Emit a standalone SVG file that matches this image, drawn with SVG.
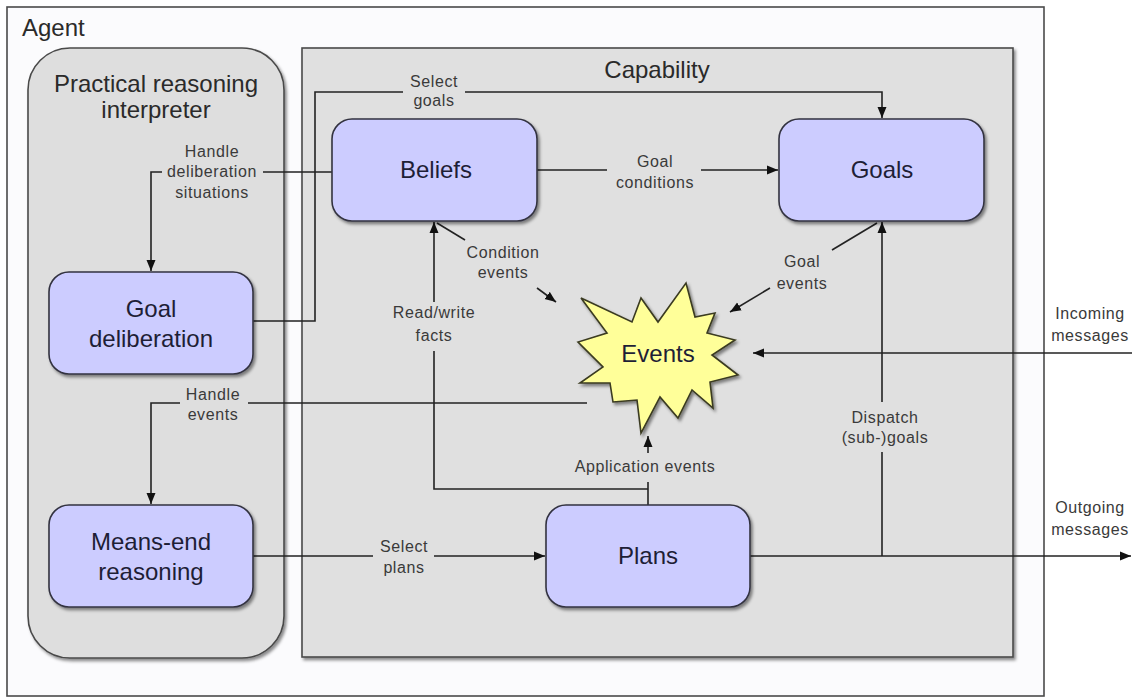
<svg xmlns="http://www.w3.org/2000/svg" width="1132" height="697" viewBox="0 0 1132 697">
  <style>
    .container { stroke: #4a4a4a; stroke-width: 1.6; }
    .node rect { fill: #ccccff; stroke: #333340; stroke-width: 1.6; }
    .title { font-family: "Liberation Sans", Arial, sans-serif; font-size: 24px; fill: #2a2a2a; }
    .nodetext { font-family: "Liberation Sans", Arial, sans-serif; font-size: 24px; fill: #1e1e36; text-anchor: middle; }
    .lbl { font-family: "Liberation Sans", Arial, sans-serif; font-size: 16px; letter-spacing: 0.6px; fill: #3a3a3a; text-anchor: middle; }
    .wire { fill: none; stroke: #222222; stroke-width: 1.6; }
  </style>
  <defs>
    <marker id="arrow" markerUnits="userSpaceOnUse" markerWidth="12" markerHeight="10" refX="11" refY="5" orient="auto">
      <path d="M0,0.5 L11,5 L0,9.5 Z" fill="#111111"/>
    </marker>
    <filter id="shadow" x="-10%" y="-10%" width="125%" height="130%">
      <feDropShadow dx="2" dy="2.5" stdDeviation="1.4" flood-color="#000000" flood-opacity="0.45"/>
    </filter>
  </defs>

  <rect x="0" y="0" width="1132" height="697" fill="#ffffff"/>

  <!-- Agent frame -->
  <g id="agent">
    <rect class="container" x="7" y="7" width="1037" height="689" fill="#fbfbfd"/>
    <text class="title" x="22" y="36">Agent</text>
  </g>

  <!-- Practical reasoning interpreter -->
  <g id="interpreter">
    <rect class="container" x="28" y="48" width="256" height="610" rx="42" ry="42" fill="#dedede" filter="url(#shadow)"/>
    <text class="title" x="156" y="92" text-anchor="middle">Practical reasoning</text>
    <text class="title" x="156" y="118" text-anchor="middle">interpreter</text>
  </g>

  <!-- Capability -->
  <g id="capability">
    <rect class="container" x="302" y="48" width="711" height="609" fill="#e0e0e0" filter="url(#shadow)"/>
    <text class="title" x="657" y="78" text-anchor="middle">Capability</text>
  </g>

  <!-- Connectors -->
  <g id="connectors">
    <!-- Select goals -->
    <path class="wire" d="M253,321 H315 V92 H403"/>
    <path class="wire" d="M465,92 H882 V118" marker-end="url(#arrow)"/>
    <text class="lbl" x="434" y="87">Select</text>
    <text class="lbl" x="434" y="106">goals</text>

    <!-- Handle deliberation situations -->
    <path class="wire" d="M332,172 H263"/>
    <path class="wire" d="M162,172 H151 V271" marker-end="url(#arrow)"/>
    <text class="lbl" x="212" y="157">Handle</text>
    <text class="lbl" x="212" y="177">deliberation</text>
    <text class="lbl" x="212" y="198">situations</text>

    <!-- Goal conditions -->
    <path class="wire" d="M537,170 H607"/>
    <path class="wire" d="M701,170 H778" marker-end="url(#arrow)"/>
    <text class="lbl" x="655" y="167">Goal</text>
    <text class="lbl" x="655" y="188">conditions</text>

    <!-- Condition events -->
    <path class="wire" d="M437,223 L465,240"/>
    <path class="wire" d="M537,288 L556,302" marker-end="url(#arrow)"/>
    <text class="lbl" x="503" y="258">Condition</text>
    <text class="lbl" x="503" y="278">events</text>

    <!-- Goal events -->
    <path class="wire" d="M877,223 L832,250"/>
    <path class="wire" d="M770,288 L730,312" marker-end="url(#arrow)"/>
    <text class="lbl" x="802" y="267">Goal</text>
    <text class="lbl" x="802" y="289">events</text>

    <!-- Read/write facts -->
    <path class="wire" d="M648,489 H434 V351"/>
    <path class="wire" d="M434,302 V222" marker-end="url(#arrow)"/>
    <text class="lbl" x="434" y="318">Read/write</text>
    <text class="lbl" x="434" y="341">facts</text>

    <!-- Application events -->
    <path class="wire" d="M648,505 V482"/>
    <path class="wire" d="M648,453 V436" marker-end="url(#arrow)"/>
    <text class="lbl" x="645" y="472">Application events</text>

    <!-- Handle events -->
    <path class="wire" d="M587,403 H248"/>
    <path class="wire" d="M180,403 H151 V504" marker-end="url(#arrow)"/>
    <text class="lbl" x="213" y="400">Handle</text>
    <text class="lbl" x="213" y="420">events</text>

    <!-- Incoming messages -->
    <path class="wire" d="M1132,353 H753" marker-end="url(#arrow)"/>
    <text class="lbl" x="1090" y="319">Incoming</text>
    <text class="lbl" x="1090" y="341">messages</text>

    <!-- Select plans -->
    <path class="wire" d="M253,556 H373"/>
    <path class="wire" d="M434,556 H545" marker-end="url(#arrow)"/>
    <text class="lbl" x="404" y="552">Select</text>
    <text class="lbl" x="404" y="573">plans</text>

    <!-- Outgoing messages -->
    <path class="wire" d="M750,556 H1131" marker-end="url(#arrow)"/>
    <text class="lbl" x="1090" y="513">Outgoing</text>
    <text class="lbl" x="1090" y="535">messages</text>

    <!-- Dispatch (sub-)goals -->
    <path class="wire" d="M882,556 V452"/>
    <path class="wire" d="M882,402 V222" marker-end="url(#arrow)"/>
    <text class="lbl" x="885" y="423">Dispatch</text>
    <text class="lbl" x="885" y="443">(sub-)goals</text>
  </g>

  <!-- Nodes -->
  <g id="beliefs" class="node">
    <rect x="332" y="119" width="205" height="102" rx="20" ry="20" filter="url(#shadow)"/>
    <text class="nodetext" x="436" y="178">Beliefs</text>
  </g>

  <g id="goals" class="node">
    <rect x="779" y="119" width="205" height="102" rx="20" ry="20" filter="url(#shadow)"/>
    <text class="nodetext" x="882" y="178">Goals</text>
  </g>

  <g id="goal-deliberation" class="node">
    <rect x="49" y="272" width="204" height="102" rx="20" ry="20" filter="url(#shadow)"/>
    <text class="nodetext" x="151" y="317">Goal</text>
    <text class="nodetext" x="151" y="347">deliberation</text>
  </g>

  <g id="means-end" class="node">
    <rect x="49" y="505" width="204" height="102" rx="20" ry="20" filter="url(#shadow)"/>
    <text class="nodetext" x="151" y="550">Means-end</text>
    <text class="nodetext" x="151" y="580">reasoning</text>
  </g>

  <g id="plans" class="node">
    <rect x="546" y="505" width="204" height="102" rx="20" ry="20" filter="url(#shadow)"/>
    <text class="nodetext" x="648" y="564">Plans</text>
  </g>

  <g id="events">
    <polygon points="686,283 695,317 715,313 707,333 735,340 712,355 738,375 710,382 713,408 692,390 678,418 660,397 641,433 637,400 613,402 610,383 580,383 603,367 578,342 607,333 581,298 632,322 641,298 658,322"
             fill="#ffff99" stroke="#3a3a20" stroke-width="1.6" stroke-linejoin="miter" filter="url(#shadow)"/>
    <text class="nodetext" x="658" y="362" fill="#1a1a10">Events</text>
  </g>
</svg>
